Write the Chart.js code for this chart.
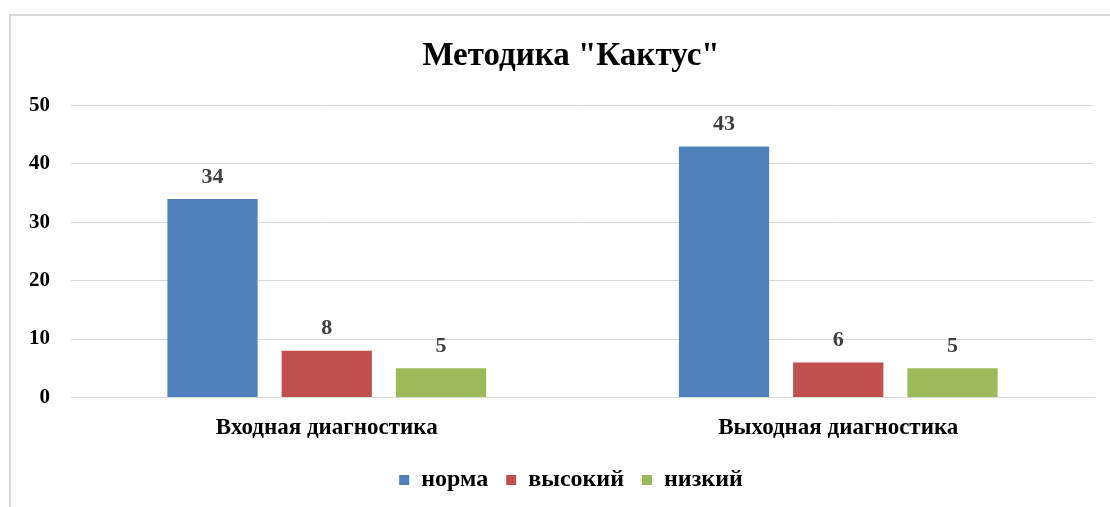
<!DOCTYPE html>
<html>
<head>
<meta charset="utf-8">
<script src="https://cdn.jsdelivr.net/npm/chart.js@4"></script>
<style>
  html, body { margin: 0; padding: 0; background: #fff; overflow: hidden; }
  #wrap { position: relative; width: 1110px; height: 507px; overflow: hidden; }
  #myChart { position: absolute; left: 0; top: 0; }
  #frame { position: absolute; left: 9px; top: 14px; right: -5px; bottom: -5px;
           border-left: 2px solid #d9d9d9; border-top: 2px solid #d9d9d9; pointer-events: none; }
</style>
</head>
<body>
<div id="wrap">
  <canvas id="myChart" width="1110" height="507"></canvas>
  <div id="frame"></div>
</div>
<script>
'use strict';

let categories = ['Входная диагностика', 'Выходная диагностика'];
let seriesNames = ['норма', 'высокий', 'низкий'];
let normaVals = [34, 43];
let vysokiyVals = [8, 6];
let nizkiyVals = [5, 5];
let colors = ['#4f81bd', '#c0504d', '#9bbb59'];

const serif = "'Liberation Serif', 'Times New Roman', serif";

// simple value labels above bars
const valueLabels = {
    id: 'valueLabels',
    afterDatasetsDraw(chart) {
        let ctx = chart.ctx;
        ctx.save();
        ctx.font = 'bold 22px ' + serif;
        ctx.fillStyle = '#404040';
        ctx.textAlign = 'center';
        ctx.textBaseline = 'bottom';
        chart.data.datasets.forEach((ds, i) => {
            chart.getDatasetMeta(i).data.forEach((bar, j) => {
                ctx.fillText(ds.data[j], bar.x, bar.y - 11);
            });
        });
        ctx.restore();
    }
};

// y tick labels drawn outside the (narrow) y scale box so they are not clipped
const yTickLabels = {
    id: 'yTickLabels',
    afterDraw(chart) {
        let ctx = chart.ctx;
        let y = chart.scales.y;
        ctx.save();
        ctx.font = 'bold 21px ' + serif;
        ctx.fillStyle = '#000';
        ctx.textAlign = 'right';
        ctx.textBaseline = 'middle';
        y.ticks.forEach(t => {
            ctx.fillText(t.value, y.right - 21, y.getPixelForValue(t.value));
        });
        ctx.restore();
    }
};

function createChart() {
    let ctx = document.getElementById('myChart').getContext('2d');
    let valueArrs = [normaVals, vysokiyVals, nizkiyVals];

    new Chart(ctx, {
        type: 'bar',
        data: {
            labels: categories,
            datasets: seriesNames.map((name, i) => ({
                label: name,
                data: valueArrs[i],
                backgroundColor: colors[i],
                borderWidth: 0,
                categoryPercentage: 0.67,
                barPercentage: 0.79
            }))
        },
        options: {
            responsive: false,
            animation: false,
            layout: { padding: { left: 48, right: 16, top: 0, bottom: 5 } },
            plugins: {
                title: {
                    display: true,
                    text: 'Методика "Кактус"',
                    color: '#000',
                    font: { family: serif, size: 33, weight: 'bold' },
                    padding: { top: 37, bottom: 29 }
                },
                legend: {
                    position: 'bottom',
                    labels: {
                        color: '#000',
                        boxWidth: 10,
                        boxHeight: 10,
                        padding: 18,
                        font: { family: serif, size: 24, weight: 'bold' }
                    }
                },
                tooltip: { enabled: false }
            },
            scales: {
                x: {
                    grid: { display: false },
                    border: { color: '#d9d9d9' },
                    afterFit(scale) { scale.height -= 1; },
                    ticks: {
                        color: '#000',
                        padding: 9,
                        font: { family: serif, size: 23, weight: 'bold' }
                    }
                },
                y: {
                    min: 0,
                    max: 50,
                    afterFit(scale) { scale.width = 23; },
                    grid: { color: '#d9d9d9', drawTicks: false },
                    border: { display: false },
                    ticks: {
                        stepSize: 10,
                        display: false
                    }
                }
            }
        },
        plugins: [valueLabels, yTickLabels]
    });
}

createChart();
</script>
</body>
</html>
